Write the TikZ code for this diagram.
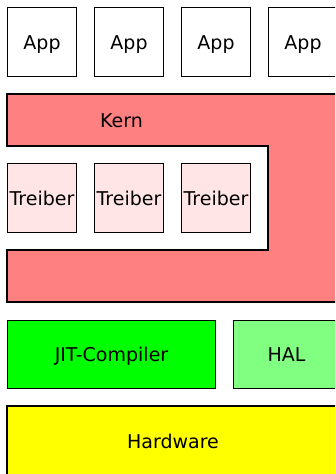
\documentclass[tikz,border=0pt]{standalone}
\usepackage{fontspec}
\setmainfont{DejaVu Sans}
\definecolor{kernrot}{HTML}{FF8080}
\definecolor{treiberrosa}{HTML}{FFE5E5}
\definecolor{jitgruen}{HTML}{00FF00}
\definecolor{halgruen}{HTML}{80FF80}
\definecolor{hwgelb}{HTML}{FFFF00}
\tikzset{
  label text/.style={font=\fontsize{19}{21}\selectfont, text height=14pt, text depth=0pt, inner sep=0pt},
  box/.style={draw, line width=1.4pt, label text},
  appbox/.style={box, fill=white, minimum width=69pt, minimum height=69pt},
  treiberbox/.style={appbox, fill=treiberrosa},
}
\begin{document}
\begin{tikzpicture}[x=1pt,y=-1pt]
\clip (0,0) rectangle (335,474);
\fill[white] (0,0) rectangle (335,474);
\node[appbox] (app1) at (42,42) {App};
\node[appbox] (app2) at (129,42) {App};
\node[appbox] (app3) at (216,42) {App};
\node[appbox] (app4) at (303,42) {App};
\draw[line width=1.4pt, fill=kernrot] (7,146) -- (7,94) -- (345,94) -- (345,302) -- (7,302) -- (7,250) -- (268,250) -- (268,146) -- cycle;
\node[label text] (kern) at (121.5,120) {Kern};
\node[treiberbox] (treiber1) at (42,198) {Treiber};
\node[treiberbox] (treiber2) at (129,198) {Treiber};
\node[treiberbox] (treiber3) at (216,198) {Treiber};
\node[box, fill=jitgruen, minimum width=208pt, minimum height=68pt] (jit) at (111.5,354.5) {JIT-Compiler};
\node[box, fill=halgruen, minimum width=106pt, minimum height=68pt] (hal) at (286.5,354.5) {HAL};
\node[box, fill=hwgelb, minimum width=332pt, minimum height=70pt] (hardware) at (173,441) {Hardware};
\end{tikzpicture}
\end{document}
